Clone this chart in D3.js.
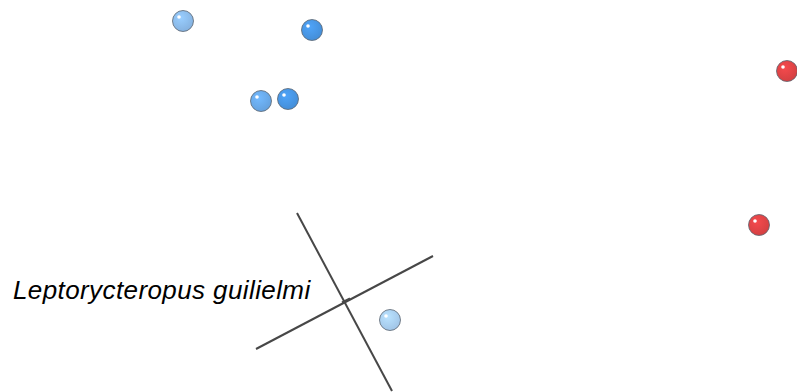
<!DOCTYPE html>
<html lang="en">

<head>
    <script src="https://d3js.org/d3.v7.min.js"></script>
    <meta charset="utf-8" />
    <style>
        body { margin: 0; background: #fff; }
    </style>
</head>

<body>
    <script>

        const w = 797;
        const h = 392;

        // specimen scores (PC1, PC2) and shade group
        const pc1 = [-2.17, -0.88, -1.39, -1.12, 3.87, 3.59, -0.10];
        const pc2 = [1.79, 1.70, 0.99, 1.01, 1.29, -0.25, -1.20];
        const groups = ["blue2", "blue4", "blue3", "blue4", "red", "red", "blue1"];
        const groupColors = {
            blue1: "#aad0f4",
            blue2: "#8cbcec",
            blue3: "#69aaea",
            blue4: "#4896e4",
            red: "#e04446"
        };

        // crosshair for the fossil taxon (plus the short tick at the centre)
        const crossLines = [
            [[-1.03, -0.13], [-0.08, -1.91]],
            [[-1.44, -1.49], [0.33, -0.56]],
            [[-0.58, -1.025], [-0.50, -0.985]]
        ];
        const labelName = "Leptorycteropus guilielmi";
        const labelPos = [-3.87, -0.99];

        const xScale = d3.scaleLinear().domain([-4, 4]).range([0, 800]);
        const yScale = d3.scaleLinear().domain([-2, 2]).range([400, 0]);

        const svg = d3.select("body")
            .append("svg")
            .attr("width", w)
            .attr("height", h);

        const defs = svg.append("defs");
        Object.entries(groupColors).forEach(([k, c]) => {
            const g = defs.append("radialGradient")
                .attr("id", "grad-" + k)
                .attr("cx", "40%")
                .attr("cy", "35%")
                .attr("r", "65%");
            g.append("stop").attr("offset", "0%").attr("stop-color", d3.color(c).brighter(0.25));
            g.append("stop").attr("offset", "100%").attr("stop-color", d3.color(c).darker(0.15));
        });

        svg.selectAll("line.cross")
            .data(crossLines)
            .enter()
            .append("line")
            .attr("class", "cross")
            .attr("x1", d => xScale(d[0][0]))
            .attr("y1", d => yScale(d[0][1]))
            .attr("x2", d => xScale(d[1][0]))
            .attr("y2", d => yScale(d[1][1]))
            .attr("stroke", "#474747")
            .attr("stroke-width", 2);

        svg.append("text")
            .attr("x", xScale(labelPos[0]))
            .attr("y", yScale(labelPos[1]))
            .attr("text-anchor", "start")
            .style("font-family", "Liberation Sans, Arial, sans-serif")
            .style("font-style", "italic")
            .style("font-size", "26px")
            .style("letter-spacing", "0.4px")
            .attr("fill", "#000")
            .text(labelName);

        const pts = pc1.map((v, i) => ({ x: v, y: pc2[i], g: groups[i] }));

        const balls = svg.selectAll("g.ball")
            .data(pts)
            .enter()
            .append("g")
            .attr("class", "ball")
            .attr("transform", d => "translate(" + xScale(d.x) + "," + yScale(d.y) + ")");

        balls.append("circle")
            .attr("r", 10.5)
            .attr("fill", d => "url(#grad-" + d.g + ")")
            .attr("stroke", "#5a6470")
            .attr("stroke-width", 0.8);

        balls.append("circle")
            .attr("cx", -4)
            .attr("cy", -4)
            .attr("r", 1.8)
            .attr("fill", "#fff");

    </script>
</body>

</html>
